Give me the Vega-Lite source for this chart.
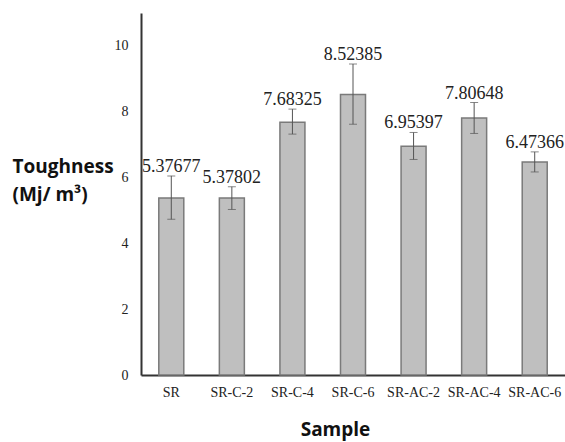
{
  "$schema": "https://vega.github.io/schema/vega-lite/v6.json",
  "width": 424,
  "height": 362,
  "autosize": "none",
  "padding": {"left": 141, "top": 13, "right": 0, "bottom": 67},
  "background": "white",
  "config": {"view": {"stroke": null}},
  "data": {
    "values": [
      {"sample": "SR", "mean": 5.37677, "lo": 4.73, "hi": 6.05, "label": "5.37677"},
      {"sample": "SR-C-2", "mean": 5.37802, "lo": 5.03, "hi": 5.72, "label": "5.37802"},
      {"sample": "SR-C-4", "mean": 7.68325, "lo": 7.32, "hi": 8.08, "label": "7.68325"},
      {"sample": "SR-C-6", "mean": 8.52385, "lo": 7.62, "hi": 9.45, "label": "8.52385"},
      {"sample": "SR-AC-2", "mean": 6.95397, "lo": 6.55, "hi": 7.37, "label": "6.95397"},
      {"sample": "SR-AC-4", "mean": 7.80648, "lo": 7.34, "hi": 8.28, "label": "7.80648"},
      {"sample": "SR-AC-6", "mean": 6.47366, "lo": 6.17, "hi": 6.78, "label": "6.47366"}
    ]
  },
  "encoding": {
    "x": {
      "field": "sample",
      "type": "nominal",
      "sort": null,
      "scale": {"paddingInner": 0, "paddingOuter": 0},
      "axis": {
        "title": "Sample",
        "titleFont": "Open Sans",
        "titleFontWeight": "bold",
        "titleFontSize": 19,
        "titleColor": "#111",
        "titleX": 194,
        "titleY": 60,
        "titleBaseline": "alphabetic",
        "labelAngle": 0,
        "labelFont": "Liberation Serif",
        "labelFontSize": 14,
        "labelColor": "#222",
        "labelPadding": 10,
        "ticks": false,
        "domainColor": "#333",
        "domainWidth": 2
      }
    }
  },
  "layer": [
    {
      "mark": {"type": "bar", "size": 25, "fill": "#bfbfbf", "stroke": "#7a7a7a", "strokeWidth": 1.5},
      "encoding": {
        "y": {
          "field": "mean",
          "type": "quantitative",
          "scale": {"domain": [0, 11], "nice": false},
          "axis": {
            "title": ["Toughness", "(Mj/ m³)"],
            "titleAngle": 0,
            "titleAlign": "left",
            "titleBaseline": "alphabetic",
            "titleX": -129,
            "titleY": 159,
            "titleFont": "Open Sans",
            "titleFontWeight": "bold",
            "titleFontSize": 19,
            "titleLineHeight": 28,
            "titleColor": "#111",
            "values": [0, 2, 4, 6, 8, 10],
            "grid": false,
            "ticks": false,
            "labelFont": "Liberation Serif",
            "labelFontSize": 14,
            "labelColor": "#222",
            "labelPadding": 13,
            "domainColor": "#333",
            "domainWidth": 2
          }
        }
      }
    },
    {
      "mark": {"type": "rule", "color": "#555", "strokeWidth": 1},
      "encoding": {
        "y": {"field": "lo", "type": "quantitative"},
        "y2": {"field": "hi"}
      }
    },
    {
      "mark": {"type": "tick", "color": "#555", "thickness": 1, "size": 8},
      "encoding": {"y": {"field": "lo", "type": "quantitative"}}
    },
    {
      "mark": {"type": "tick", "color": "#555", "thickness": 1, "size": 8},
      "encoding": {"y": {"field": "hi", "type": "quantitative"}}
    },
    {
      "mark": {"type": "text", "font": "Liberation Serif", "fontSize": 18, "baseline": "alphabetic", "dy": -4, "color": "#222"},
      "encoding": {
        "y": {"field": "hi", "type": "quantitative"},
        "text": {"field": "label"}
      }
    }
  ]
}
